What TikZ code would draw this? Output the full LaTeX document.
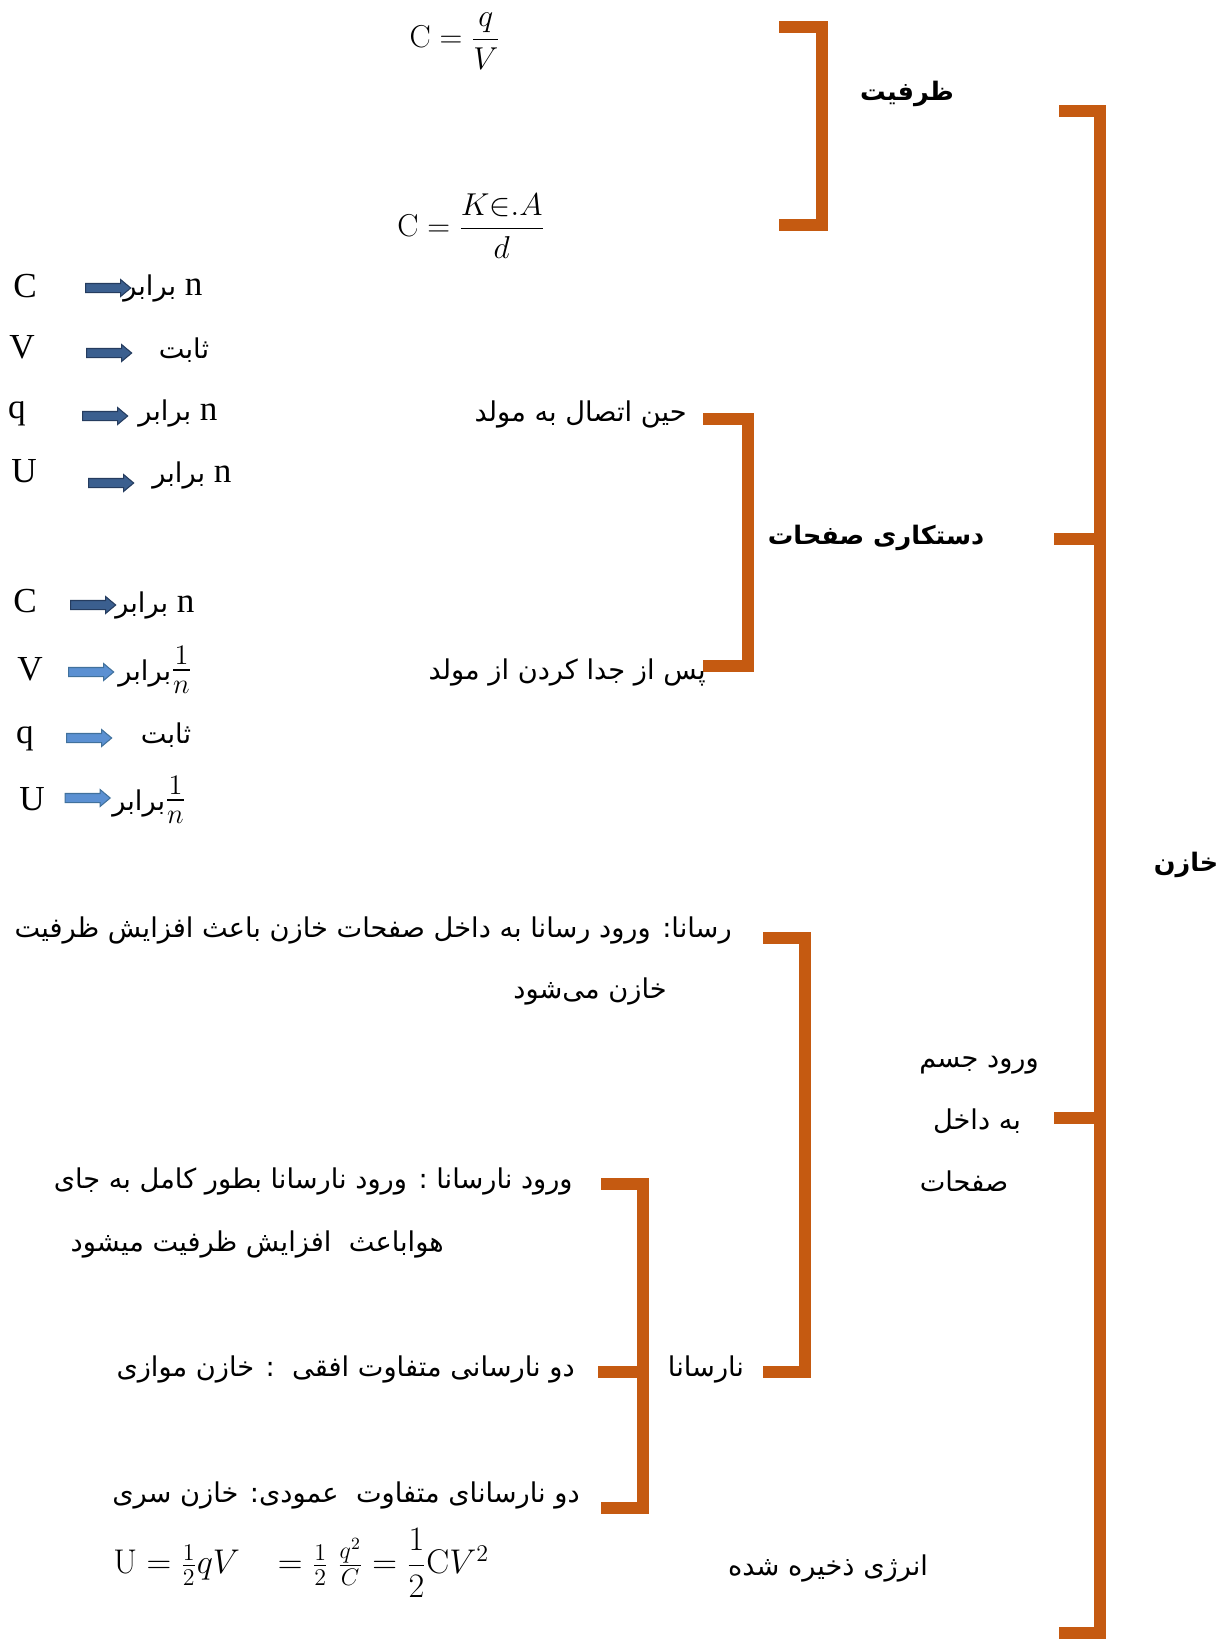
\RequirePackage{fix-cm}
\documentclass[tikz,border=0pt]{standalone}
\usepackage{amsmath}
\usepackage{fontspec}
\usepackage{tikz}
\usetikzlibrary{shapes.arrows}
\TeXXeTstate=1
\newfontfamily\fafont[Script=Arabic]{DejaVu Sans}
\newfontfamily\enfont{Liberation Serif}
\pgfdeclarelayer{edgelayer}
\pgfdeclarelayer{nodelayer}
\pgfsetlayers{edgelayer,nodelayer,main}
\definecolor{bracketorange}{RGB}{197,90,17}
\definecolor{arrowdark}{RGB}{59,95,143}
\definecolor{arrowdarkline}{RGB}{37,60,95}
\definecolor{arrowlight}{RGB}{91,144,210}
\definecolor{arrowlightline}{RGB}{65,113,156}
\newcommand{\nbig}{{\enfont\fontsize{20}{24}\selectfont n}}
\newcommand{\onen}{{\fontsize{23}{27}\selectfont$\frac{1}{n}$}}
\tikzstyle{none} = []
\tikzstyle{bracket} = [draw=bracketorange, line width=6.5pt, line join=miter]
\tikzstyle{fa} = [inner sep=0pt, font=\fafont\fontsize{15.5}{19}\selectfont]
\tikzstyle{fa bold} = [inner sep=0pt, font=\fafont\bfseries\fontsize{14.5}{18}\selectfont]
\tikzstyle{en} = [inner sep=0pt, font=\enfont\fontsize{20}{24}\selectfont]
\tikzstyle{formula} = [inner sep=0pt, font=\fontsize{18}{22}\selectfont]
\tikzstyle{dark arrow} = [single arrow, draw=arrowdarkline, fill=arrowdark, line width=0.6pt, minimum height=0.9cm, inner xsep=0pt, inner ysep=0.08cm, single arrow head extend=0.08cm, single arrow tip angle=80]
\tikzstyle{light arrow} = [dark arrow, draw=arrowlightline, fill=arrowlight]

\begin{document}
\begin{tikzpicture}[scale=0.5]
	\useasboundingbox (0, 0) rectangle (49.04, -65.56);
	\begin{pgfonlayer}{nodelayer}
		\node [style=none] (0) at (31.16, -1.08) {};
		\node [style=none] (1) at (32.88, -1.08) {};
		\node [style=none] (2) at (32.88, -9) {};
		\node [style=none] (3) at (31.16, -9) {};
		\node [style=none] (4) at (42.36, -4.44) {};
		\node [style=none] (5) at (44, -4.44) {};
		\node [style=none] (6) at (44, -65.32) {};
		\node [style=none] (7) at (42.36, -65.32) {};
		\node [style=none] (8) at (42.16, -21.56) {};
		\node [style=none] (9) at (44, -21.56) {};
		\node [style=none] (10) at (42.16, -44.72) {};
		\node [style=none] (11) at (44, -44.72) {};
		\node [style=none] (12) at (28.12, -16.76) {};
		\node [style=none] (13) at (29.92, -16.76) {};
		\node [style=none] (14) at (29.92, -26.64) {};
		\node [style=none] (15) at (28.12, -26.64) {};
		\node [style=none] (16) at (30.52, -37.52) {};
		\node [style=none] (17) at (32.2, -37.52) {};
		\node [style=none] (18) at (32.2, -54.88) {};
		\node [style=none] (19) at (30.52, -54.88) {};
		\node [style=none] (20) at (24.04, -47.36) {};
		\node [style=none] (21) at (25.72, -47.36) {};
		\node [style=none] (22) at (25.72, -60.32) {};
		\node [style=none] (23) at (24.04, -60.32) {};
		\node [style=none] (24) at (23.92, -54.88) {};
		\node [style=none] (25) at (25.72, -54.88) {};
		\node [style=fa bold] (26) at (36.28, -3.76) {\beginR ظرفیت\endR};
		\node [style=fa bold] (27) at (47.44, -34.6) {\beginR خازن\endR};
		\node [style=fa bold] (28) at (35.04, -21.52) {\beginR دستکاری صفحات\endR};
		\node [style=formula] (29) at (18.2, -1.64) {$\mathrm{C} = \dfrac{q}{V}$};
		\node [style=formula] (30) at (18.84, -9.04) {$\mathrm{C} = \dfrac{K{\in}.A}{d}$};
		\node [style=fa, anchor=east] (31) at (27.48, -16.56) {\beginR حین اتصال به مولد\endR};
		\node [style=fa, anchor=east] (32) at (28.24, -26.88) {\beginR پس از جدا کردن از مولد\endR};
		\node [style=fa, anchor=east] (33) at (29.28, -37.2) {\beginR رسانا: ورود رسانا به داخل صفحات خازن باعث افزایش ظرفیت\endR};
		\node [style=fa, anchor=east] (34) at (26.68, -39.64) {\beginR خازن می‌شود\endR};
		\node [style=fa] (35) at (39.16, -42.6) {\beginR ورود جسم\endR};
		\node [style=fa] (36) at (39.08, -44.84) {\beginR به داخل\endR};
		\node [style=fa] (37) at (38.56, -47.24) {\beginR صفحات\endR};
		\node [style=fa] (38) at (28.24, -54.76) {\beginR نارسانا\endR};
		\node [style=fa, anchor=east] (39) at (22.92, -47.24) {\beginR ورود نارسانا : ورود نارسانا بطور کامل به جای\endR};
		\node [style=fa, anchor=east] (40) at (17.76, -49.76) {\beginR هواباعث \ افزایش ظرفیت میشود\endR};
		\node [style=fa, anchor=east] (41) at (23, -54.76) {\beginR دو نارسانی متفاوت افقی \ : خازن موازی\endR};
		\node [style=fa, anchor=east] (42) at (23.2, -59.8) {\beginR دو نارسانای متفاوت \ عمودی: خازن سری\endR};
		\node [style=formula, anchor=west, font=\fontsize{19.5}{23}\selectfont] (43) at (4.52, -62.52) {$\mathrm{U} = \tfrac{1}{2}qV \;\;\; = \tfrac{1}{2}\;\tfrac{q^2}{C} = \dfrac{1}{2}\mathrm{C}V^2$};
		\node [style=fa] (44) at (33.12, -62.72) {\beginR انرژی ذخیره شده\endR};
		\node [style=en, anchor=base] (45) at (1, -11.88) {C};
		\node [style=en, anchor=base] (46) at (0.88, -14.32) {V};
		\node [style=en, anchor=base] (47) at (0.68, -16.72) {q};
		\node [style=en, anchor=base] (48) at (0.96, -19.28) {U};
		\node [style=en, anchor=base] (49) at (1, -24.48) {C};
		\node [style=en, anchor=base] (50) at (1.2, -27.2) {V};
		\node [style=en, anchor=base] (51) at (1, -29.72) {q};
		\node [style=en, anchor=base] (52) at (1.28, -32.4) {U};
		\node [style=dark arrow] (53) at (4.22, -11.52) {};
		\node [style=dark arrow] (54) at (4.26, -14.12) {};
		\node [style=dark arrow] (55) at (4.1, -16.64) {};
		\node [style=dark arrow] (56) at (4.34, -19.32) {};
		\node [style=dark arrow] (57) at (3.62, -24.2) {};
		\node [style=light arrow] (58) at (3.54, -26.88) {};
		\node [style=light arrow] (59) at (3.46, -29.52) {};
		\node [style=light arrow] (60) at (3.4, -31.92) {};
		\node [style=fa, anchor=base west] (61) at (4.92, -11.8) {\beginR برابر\endR\ \nbig};
		\node [style=fa, anchor=base] (62) at (7.36, -14.32) {\beginR ثابت\endR};
		\node [style=fa, anchor=base west] (63) at (5.52, -16.8) {\beginR برابر\endR\ \nbig};
		\node [style=fa, anchor=base west] (64) at (6.08, -19.28) {\beginR برابر\endR\ \nbig};
		\node [style=fa, anchor=base west] (65) at (4.6, -24.48) {\beginR برابر\endR\ \nbig};
		\node [style=fa, anchor=base west] (66) at (4.72, -27.2) {\beginR برابر\endR\onen};
		\node [style=fa, anchor=base] (67) at (6.64, -29.72) {\beginR ثابت\endR};
		\node [style=fa, anchor=base west] (68) at (4.48, -32.4) {\beginR برابر\endR\onen};
	\end{pgfonlayer}
	\begin{pgfonlayer}{edgelayer}
		\draw [style=bracket] (0.center) to (1.center) to (2.center) to (3.center);
		\draw [style=bracket] (4.center) to (5.center) to (6.center) to (7.center);
		\draw [style=bracket] (8.center) to (9.center);
		\draw [style=bracket] (10.center) to (11.center);
		\draw [style=bracket] (12.center) to (13.center) to (14.center) to (15.center);
		\draw [style=bracket] (16.center) to (17.center) to (18.center) to (19.center);
		\draw [style=bracket] (20.center) to (21.center) to (22.center) to (23.center);
		\draw [style=bracket] (24.center) to (25.center);
	\end{pgfonlayer}
\end{tikzpicture}
\end{document}
